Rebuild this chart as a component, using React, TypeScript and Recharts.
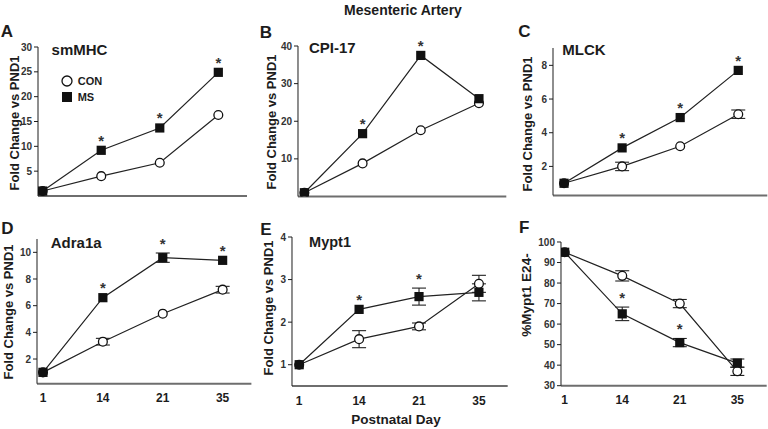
import React from 'react';
import { LineChart, Line, XAxis, YAxis, ErrorBar, LabelList, Legend } from 'recharts';

const FONT = '"Liberation Sans", Arial, Helvetica, sans-serif';
const INK = '#1c1c1c';

const days = ['1', '14', '21', '35'];

const smmhcCon = [1.0, 4.0, 6.7, 16.3];
const smmhcMs = [1.0, 9.2, 13.7, 24.9];
const smmhcSig = [0, 1, 1, 1];
const smmhcTicks = [5, 10, 15, 20, 25, 30];

const cpiCon = [1.0, 8.8, 17.6, 24.8];
const cpiMs = [1.0, 16.7, 37.5, 26.0];
const cpiSig = [0, 1, 1, 0];
const cpiTicks = [10, 20, 30, 40];

const mlckCon = [1.0, 2.0, 3.2, 5.1];
const mlckConErr = [0, 0.25, 0, 0.25];
const mlckMs = [1.0, 3.1, 4.9, 7.7];
const mlckMsErr = [0, 0, 0, 0];
const mlckSig = [0, 1, 1, 1];
const mlckTicks = [2, 4, 6, 8];

const adraCon = [1.0, 3.3, 5.4, 7.2];
const adraConErr = [0, 0.25, 0, 0.25];
const adraMs = [1.0, 6.6, 9.6, 9.4];
const adraMsErr = [0, 0, 0.35, 0];
const adraSig = [0, 1, 1, 1];
const adraTicks = [2, 4, 6, 8, 10];

const myptCon = [1.0, 1.6, 1.9, 2.9];
const myptConErr = [0, 0.2, 0.08, 0.2];
const myptMs = [1.0, 2.3, 2.6, 2.7];
const myptMsErr = [0, 0, 0.2, 0.2];
const myptSig = [0, 1, 1, 0];
const myptTicks = [1, 2, 3, 4];

const e24Con = [95, 83.5, 70, 37];
const e24ConErr = [0, 2.5, 2, 2];
const e24Ms = [95, 65, 51, 41];
const e24MsErr = [0, 3.3, 2, 2];
const e24Sig = [0, 1, 1, 0];
const e24Ticks = [30, 40, 50, 60, 70, 80, 90, 100];

const renderCircle = (p: any) => (
  <circle key={`c${p.index}`} cx={p.cx} cy={p.cy} r={4.4} fill="#fff" stroke="#111" strokeWidth={1.3} />
);
const renderSquare = (p: any) => (
  <rect key={`s${p.index}`} x={p.cx - 4.6} y={p.cy - 4.6} width={9.2} height={9.2} fill="#111" />
);
const renderStar = (p: any) => {
  if (!p.value) return null;
  const x = p.x ?? p.viewBox?.x;
  const y = p.y ?? p.viewBox?.y;
  if (x == null || y == null) return null;
  return (
    <text key={`t${p.index}`} x={x} y={y - 4.5} textAnchor="middle" fontSize={15} fontWeight={700} fontFamily={FONT} fill="#333">
      *
    </text>
  );
};

const renderLegend = (props: any) => {
  const items = (props.payload || []).filter((e: any) => e.value === 'CON' || e.value === 'MS');
  return (
    <div style={{ fontFamily: FONT, fontWeight: 700, fontSize: 11, color: INK }}>
      {items.map((e: any) => (
        <div key={e.value} style={{ display: 'flex', alignItems: 'center', height: 16 }}>
          <svg width={12} height={12}>
            {e.value === 'CON' ? (
              <circle cx={6} cy={6} r={5} fill="#fff" stroke="#111" strokeWidth={1.3} />
            ) : (
              <rect x={1} y={1} width={10} height={10} fill="#111" />
            )}
          </svg>
          <span style={{ marginLeft: 5 }}>{e.value}</span>
        </div>
      ))}
    </div>
  );
};

type Rect = { x: number; y: number; w: number; h: number };

function Panel(props: {
  rect: Rect;
  con: number[];
  ms: number[];
  conErr?: number[];
  msErr?: number[];
  sig: number[];
  yDomain: [number, number];
  yTicks: number[];
  xDomain: [number, number];
  showX: boolean;
  legend?: boolean;
}) {
  const { rect, con, ms, conErr, msErr, sig, yDomain, yTicks, xDomain, showX, legend } = props;
  const data = days.map((d, i) => ({
    i,
    day: d,
    con: con[i],
    ms: ms[i],
    conErr: conErr ? conErr[i] : 0,
    msErr: msErr ? msErr[i] : 0,
    sig: sig[i],
    starBase: sig[i] ? ms[i] + (msErr ? msErr[i] : 0) : null,
  }));
  const ML = 40, MT = 14, MR = 4, XH = 30;
  const left = rect.x - ML;
  const top = rect.y - MT;
  return (
    <div style={{ position: 'absolute', left, top }}>
      <LineChart width={rect.w + ML + MR} height={rect.h + MT + XH} data={data} margin={{ top: MT, right: MR, bottom: 0, left: 0 }}>
        <XAxis
          type="number"
          dataKey="i"
          domain={xDomain}
          ticks={[0, 1, 2, 3]}
          tickFormatter={(v: number) => days[v]}
          allowDataOverflow
          height={XH}
          tickLine={false}
          tick={showX ? { fill: INK, fontSize: 12, fontWeight: 700, fontFamily: FONT } : false}
          axisLine={{ stroke: '#6e6e6e', strokeWidth: 2 }}
          tickMargin={4}
        />
        <YAxis
          type="number"
          domain={yDomain}
          ticks={yTicks}
          allowDataOverflow
          interval={0}
          width={ML}
          tickSize={4}
          tickMargin={2}
          tickLine={{ stroke: INK }}
          axisLine={{ stroke: INK }}
          tick={{ fill: '#333', fontSize: 10, fontWeight: 700, fontFamily: FONT }}
        />
        {legend && (
          <Legend
            layout="vertical"
            align="center"
            verticalAlign="middle"
            wrapperStyle={{ left: 60.7 - left, top: 73 - top, width: 'auto', height: 'auto' }}
            content={renderLegend}
          />
        )}
        {conErr && (
          <Line dataKey="con" name="conErr" stroke="none" dot={false} activeDot={false} legendType="none" isAnimationActive={false}>
            <ErrorBar dataKey="conErr" direction="y" width={7} stroke="#222" strokeWidth={1.1} />
          </Line>
        )}
        {msErr && (
          <Line dataKey="ms" name="msErr" stroke="none" dot={false} activeDot={false} legendType="none" isAnimationActive={false}>
            <ErrorBar dataKey="msErr" direction="y" width={7} stroke="#222" strokeWidth={1.1} />
          </Line>
        )}
        <Line dataKey="con" name="CON" stroke="#222" strokeWidth={1.2} dot={renderCircle} activeDot={false} isAnimationActive={false} />
        <Line dataKey="ms" name="MS" stroke="#222" strokeWidth={1.2} dot={renderSquare} activeDot={false} isAnimationActive={false} />
        <Line dataKey="starBase" name="sig" stroke="none" dot={false} activeDot={false} legendType="none" isAnimationActive={false}>
          <LabelList dataKey="sig" content={renderStar} />
        </Line>
      </LineChart>
    </div>
  );
}

function Txt(props: { x: number; y: number; size: number; children: React.ReactNode; rotate?: number; weight?: number }) {
  const { x, y, size, children, rotate = 0, weight = 700 } = props;
  return (
    <div
      style={{
        position: 'absolute',
        left: x,
        top: y,
        transform: `translate(-50%, -50%) rotate(${rotate}deg)`,
        fontSize: size,
        fontWeight: weight,
        fontFamily: FONT,
        color: INK,
        whiteSpace: 'nowrap',
        lineHeight: 1,
      }}
    >
      {children}
    </div>
  );
}

export default function App() {
  return (
    <div style={{ position: 'fixed', left: 0, top: 0, width: 768, height: 429, background: '#fff', overflow: 'hidden' }}>
      <Txt x={403} y={10} size={14}>Mesenteric Artery</Txt>

      <Panel rect={{ x: 38, y: 46.7, w: 209, h: 149 }} con={smmhcCon} ms={smmhcMs} sig={smmhcSig}
        yDomain={[0, 30]} yTicks={smmhcTicks} xDomain={[-0.08, 3.49]} showX={false} legend />
      <Panel rect={{ x: 297.7, y: 46, w: 208.3, h: 150.5 }} con={cpiCon} ms={cpiMs} sig={cpiSig}
        yDomain={[0, 40]} yTicks={cpiTicks} xDomain={[-0.11, 3.47]} showX={false} />
      <Panel rect={{ x: 552.7, y: 48.3, w: 214.3, h: 147.4 }} con={mlckCon} ms={mlckMs} conErr={mlckConErr} msErr={mlckMsErr} sig={mlckSig}
        yDomain={[0.28, 9.03]} yTicks={mlckTicks} xDomain={[-0.19, 3.5]} showX={false} />
      <Panel rect={{ x: 37.3, y: 239.3, w: 214.4, h: 144.7 }} con={adraCon} ms={adraMs} conErr={adraConErr} msErr={adraMsErr} sig={adraSig}
        yDomain={[0.15, 11]} yTicks={adraTicks} xDomain={[-0.1, 3.48]} showX />
      <Panel rect={{ x: 292, y: 236.7, w: 215.7, h: 149 }} con={myptCon} ms={myptMs} conErr={myptConErr} msErr={myptMsErr} sig={myptSig}
        yDomain={[0.5, 4]} yTicks={myptTicks} xDomain={[-0.12, 3.48]} showX />
      <Panel rect={{ x: 561.3, y: 242.3, w: 205.7, h: 143.7 }} con={e24Con} ms={e24Ms} conErr={e24ConErr} msErr={e24MsErr} sig={e24Sig}
        yDomain={[30, 100]} yTicks={e24Ticks} xDomain={[-0.064, 3.51]} showX />

      <Txt x={7} y={31} size={17}>A</Txt>
      <Txt x={266} y={32} size={17}>B</Txt>
      <Txt x={524.5} y={31} size={17}>C</Txt>
      <Txt x={7.5} y={227.5} size={17}>D</Txt>
      <Txt x={266} y={229} size={17}>E</Txt>
      <Txt x={524.3} y={226.7} size={17}>F</Txt>

      <Txt x={79.5} y={49} size={15}>smMHC</Txt>
      <Txt x={332.3} y={47.2} size={15}>CPI-17</Txt>
      <Txt x={584} y={48.7} size={15}>MLCK</Txt>
      <Txt x={76.2} y={242.3} size={15}>Adra1a</Txt>
      <Txt x={330} y={241.5} size={14.5}>Mypt1</Txt>

      <Txt x={14} y={122.5} size={13} rotate={-90}>Fold Change vs PND1</Txt>
      <Txt x={271} y={122} size={13} rotate={-90}>Fold Change vs PND1</Txt>
      <Txt x={527} y={124} size={13} rotate={-90}>Fold Change vs PND1</Txt>
      <Txt x={8} y={311.5} size={13} rotate={-90}>Fold Change vs PND1</Txt>
      <Txt x={268} y={307.5} size={13} rotate={-90}>Fold Change vs PND1</Txt>
      <Txt x={527} y={295} size={13.5} rotate={-90}>%Mypt1 E24-</Txt>

      <Txt x={396} y={420} size={13.5}>Postnatal Day</Txt>
    </div>
  );
}
